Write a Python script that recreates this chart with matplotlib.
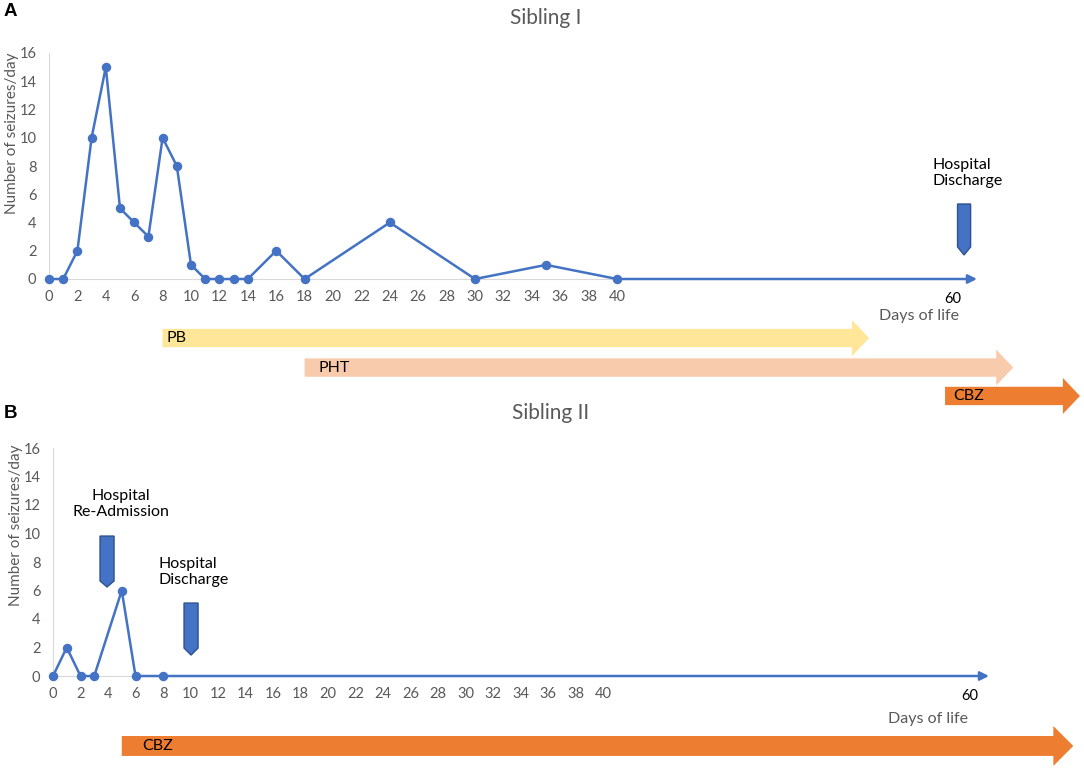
import matplotlib
matplotlib.use("Agg")
import matplotlib.pyplot as plt
from matplotlib.patches import FancyArrow, Polygon

plt.rcParams['font.family'] = ['Lato', 'DejaVu Sans']

# ---------------- data ----------------
days_A = [0, 1, 2, 3, 4, 5, 6, 7, 8, 9, 10, 11, 12, 13, 14, 16, 18, 24, 30, 35, 40]
seizures_A = [0, 0, 2, 10, 15, 5, 4, 3, 10, 8, 1, 0, 0, 0, 0, 2, 0, 4, 0, 1, 0]
days_B = [0, 1, 2, 3, 5, 6, 8]
seizures_B = [0, 2, 0, 0, 6, 0, 0]

xticks = list(range(0, 41, 2))
yticks = list(range(0, 17, 2))

drugs_A = ['PB', 'PHT', 'CBZ']
drug_start_A = [8, 18, 63.1]
drug_end_A = [57.75, 67.9, 72.6]
drug_colors_A = ['#FFE699', '#F8CBAD', '#ED7D31']

drugs_B = ['CBZ']
drug_start_B = [5]
drug_end_B = [74.2]
drug_colors_B = ['#ED7D31']

events_A = ['Hospital\nDischarge']
event_day_A = [64.44]
events_B = ['Hospital\nRe-Admission', 'Hospital\nDischarge']
event_day_B = [3.93, 10.04]

BLUE = '#4472C4'
GRAY = '#595959'

fig = plt.figure(figsize=(10.84, 7.70), dpi=100)
W, H = 1084, 770

def add_axes_px(left, right, y0, y16):
    return fig.add_axes([left / W, (H - y0) / H, (right - left) / W, (y0 - y16) / H])

axA = add_axes_px(49, 977, 279, 53)
axB = add_axes_px(53, 989, 676, 448)
axA.set_xlim(0, 65.35)
axB.set_xlim(0, 68.07)

for ax in (axA, axB):
    ax.set_ylim(0, 16)
    ax.set_xticks(xticks)
    ax.set_yticks(yticks)
    for s in ('top', 'right'):
        ax.spines[s].set_visible(False)
    ax.spines['left'].set_color('#D9D9D9')
    ax.spines['bottom'].set_color('#D9D9D9')
    ax.spines['left'].set_bounds(0, 16)
    ax.spines['bottom'].set_bounds(0, 40)
    ax.tick_params(length=0, labelsize=10.5, colors=GRAY)
    ax.tick_params(axis='x', pad=8)
    ax.tick_params(axis='y', pad=9)
    ax.patch.set_alpha(0)

# ---- seizure lines ----
axA.annotate('', xy=(65.35, 0), xytext=(days_A[-1], 0),
             arrowprops=dict(arrowstyle='-|>', color=BLUE, lw=1.8, mutation_scale=13,
                             shrinkA=0, shrinkB=0), annotation_clip=False)
axA.plot(days_A, seizures_A, color=BLUE, lw=1.8, marker='o', ms=5.8, clip_on=False, zorder=5)

axB.annotate('', xy=(68.07, 0), xytext=(days_B[-1], 0),
             arrowprops=dict(arrowstyle='-|>', color=BLUE, lw=1.8, mutation_scale=13,
                             shrinkA=0, shrinkB=0), annotation_clip=False)
axB.plot(days_B, seizures_B, color=BLUE, lw=1.8, marker='o', ms=5.8, clip_on=False, zorder=5)

# drug arrows
def drug_arrows(ax, names, starts, ends, colors, ycs, width, head_w, head_l, text_offset):
    for n, s, e, c, yc in zip(names, starts, ends, colors, ycs):
        arr = FancyArrow(s, yc, e - s, 0, width=width, head_width=head_w, head_length=head_l,
                         length_includes_head=True, color=c, lw=0, clip_on=False)
        ax.add_patch(arr)
        ax.text(s + text_offset[n], yc, n, ha='left', va='center', fontsize=11.5,
                color='black', clip_on=False)

drug_arrows(axA, drugs_A, drug_start_A, drug_end_A, drug_colors_A, [-4.18, -6.27, -8.28],
            1.3, 2.55, 1.2, {'PB': 0.3, 'PHT': 1.0, 'CBZ': 0.55})
drug_arrows(axB, drugs_B, drug_start_B, drug_end_B, drug_colors_B, [-4.91],
            1.4, 2.8, 1.45, {'CBZ': 1.5})

# event markers (down-pointing pentagons)
def marker(ax, xc, hw, top, shoulder, tip):
    pts = [(xc - hw, top), (xc + hw, top), (xc + hw, shoulder), (xc, tip), (xc - hw, shoulder)]
    ax.add_patch(Polygon(pts, closed=True, facecolor=BLUE, edgecolor='#2F528F', lw=1,
                         clip_on=False, zorder=6))

marker(axA, event_day_A[0], 0.46, 5.31, 2.27, 1.70)
axA.text(62.2, 7.5, events_A[0], ha='left', va='center', fontsize=11.5, linespacing=1.25,
         color='black')

marker(axB, event_day_B[0], 0.51, 9.82, 6.67, 6.25)
axB.text(4.95, 12.07, events_B[0], ha='center', va='center', fontsize=11.5, linespacing=1.25,
         color='black')
marker(axB, event_day_B[1], 0.51, 5.12, 1.96, 1.47)
axB.text(7.64, 7.3, events_B[1], ha='left', va='center', fontsize=11.5, linespacing=1.25,
         color='black')

# "60" and axis titles
axA.text(63.66, -1.42, '60', ha='center', va='center', fontsize=10.5, color='black', clip_on=False)
axB.text(66.69, -1.40, '60', ha='center', va='center', fontsize=10.5, color='black', clip_on=False)
axA.text(61.27, -2.62, 'Days of life', ha='center', va='center', fontsize=11.5, color=GRAY, clip_on=False)
axB.text(63.64, -3.02, 'Days of life', ha='center', va='center', fontsize=11.5, color=GRAY, clip_on=False)

axA.text(-0.0399, 0.646, 'Number of seizures/day', rotation=90, ha='center', va='center',
         fontsize=11, color=GRAY, transform=axA.transAxes)
axB.text(-0.0395, 0.662, 'Number of seizures/day', rotation=90, ha='center', va='center',
         fontsize=11, color=GRAY, transform=axB.transAxes)

# titles and panel letters
fig.text(546 / W, 1 - 18 / H, 'Sibling I', ha='center', va='center', fontsize=15, color=GRAY)
fig.text(551 / W, 1 - 413 / H, 'Sibling II', ha='center', va='center', fontsize=15, color=GRAY)
fig.text(4 / W, 1 - 11 / H, 'A', ha='left', va='center', fontsize=13.5, fontweight='bold',
         family='Liberation Sans', color='black')
fig.text(4 / W, 1 - 413 / H, 'B', ha='left', va='center', fontsize=13.5, fontweight='bold',
         family='Liberation Sans', color='black')

fig.savefig('out.png', dpi=100)
